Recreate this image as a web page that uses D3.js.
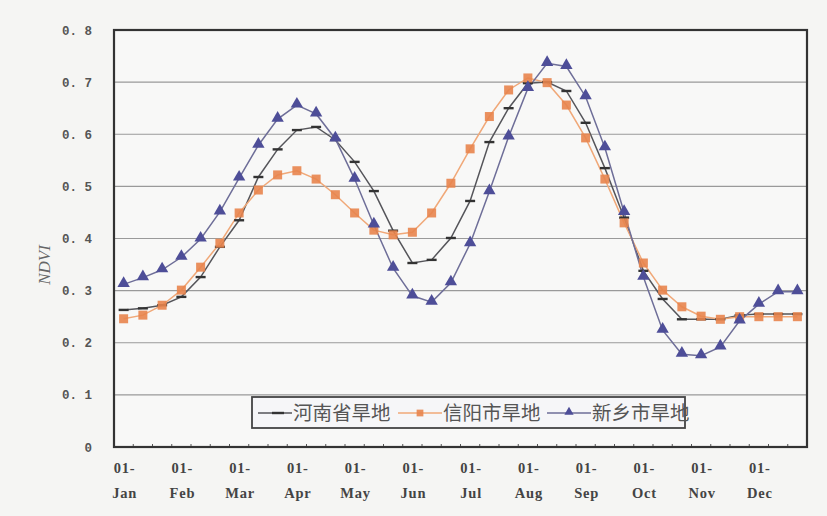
<!DOCTYPE html>
<html>
<head>
<meta charset="utf-8">
<script src="https://cdn.jsdelivr.net/npm/d3@7"></script>
<style>
  html, body { margin: 0; padding: 0; background: #f5f5f3; }
  svg { display: block; }
</style>
</head>
<body>
<svg id="chart" width="827" height="516"></svg>
<script>
// Dekadal NDVI (10-day periods) of dry farmland, Jan–Dec
const months = ["Jan","Feb","Mar","Apr","May","Jun","Jul","Aug","Sep","Oct","Nov","Dec"];
const dekads = months.flatMap(m => ["01-" + m, "11-" + m, "21-" + m]);

const seriesNames = ["河南省旱地", "信阳市旱地", "新乡市旱地"];

const henan = [
  0.263, 0.266, 0.272, 0.288, 0.326, 0.384, 0.435, 0.518, 0.571, 0.608, 0.614, 0.589,
  0.547, 0.491, 0.415, 0.353, 0.359, 0.401, 0.472, 0.585, 0.650, 0.698, 0.700, 0.683,
  0.622, 0.535, 0.440, 0.338, 0.284, 0.245, 0.245, 0.245, 0.253, 0.255, 0.255, 0.255
];
const xinyang = [
  0.246, 0.253, 0.272, 0.301, 0.345, 0.391, 0.449, 0.493, 0.522, 0.530, 0.514, 0.484,
  0.449, 0.416, 0.407, 0.412, 0.449, 0.506, 0.572, 0.634, 0.685, 0.708, 0.699, 0.656,
  0.593, 0.514, 0.430, 0.353, 0.301, 0.269, 0.251, 0.245, 0.250, 0.250, 0.250, 0.250
];
const xinxiang = [
  0.312, 0.325, 0.340, 0.364, 0.399, 0.451, 0.516, 0.579, 0.629, 0.656, 0.639, 0.591,
  0.514, 0.426, 0.343, 0.290, 0.278, 0.315, 0.390, 0.490, 0.595, 0.688, 0.736, 0.730,
  0.672, 0.574, 0.450, 0.326, 0.224, 0.178, 0.175, 0.192, 0.242, 0.274, 0.298, 0.298
];
const yTicks = [0, 0.1, 0.2, 0.3, 0.4, 0.5, 0.6, 0.7, 0.8];

const svg = d3.select("#chart");
const plot = { left: 114, right: 807, top: 30, bottom: 447 };

const x = d3.scaleBand()
  .domain(d3.range(dekads.length))
  .range([plot.left, plot.right])
  .padding(0);
const cx = i => x(i) + x.bandwidth() / 2;
const y = d3.scaleLinear().domain([0, 0.8]).range([plot.bottom, plot.top]);

// plot background
svg.append("rect")
  .attr("x", plot.left).attr("y", plot.top)
  .attr("width", plot.right - plot.left).attr("height", plot.bottom - plot.top)
  .attr("fill", "#f8f8f7");

// horizontal gridlines
svg.append("g")
  .selectAll("line")
  .data(yTicks.filter(t => t > 0 && t < 0.8))
  .join("line")
  .attr("x1", plot.left).attr("x2", plot.right)
  .attr("y1", d => y(d)).attr("y2", d => y(d))
  .attr("stroke", "#9a9a9a").attr("stroke-width", 1.2);

// y axis labels
const yAxis = d3.axisLeft(y).tickValues(yTicks).tickSize(0).tickPadding(22)
  .tickFormat(d => d === 0 ? "0" : d3.format(".1f")(d).replace(".", ". "));
const gy = svg.append("g").attr("transform", `translate(${plot.left},0)`).call(yAxis);
gy.select(".domain").remove();
gy.selectAll("text")
  .attr("font-family", "'Liberation Mono', monospace")
  .attr("font-weight", "bold")
  .attr("font-size", 12.5)
  .attr("fill", "#555");

// x axis: small ticks at dekad boundaries, labels every month
const gx = svg.append("g");
gx.selectAll("line")
  .data(d3.range(dekads.length + 1))
  .join("line")
  .attr("x1", i => plot.left + i * x.bandwidth())
  .attr("x2", i => plot.left + i * x.bandwidth())
  .attr("y1", plot.bottom - 3).attr("y2", plot.bottom + 1)
  .attr("stroke", "#555").attr("stroke-width", 1);

const monthIdx = d3.range(0, dekads.length, 3);
const lbl = gx.selectAll("text")
  .data(monthIdx)
  .join("text")
  .attr("text-anchor", "middle")
  .attr("font-family", "'Liberation Serif', serif")
  .attr("font-weight", "bold")
  .attr("font-size", 14.5)
  .attr("letter-spacing", 0.8)
  .attr("fill", "#444");
lbl.append("tspan").attr("x", i => cx(i) + 1).attr("y", 473)
  .text(i => dekads[i].slice(0, 3));
lbl.append("tspan").attr("x", i => cx(i) + 1).attr("y", 498)
  .text(i => dekads[i].slice(3));

// y axis title
svg.append("text")
  .attr("transform", "translate(50,265) rotate(-90)")
  .attr("text-anchor", "middle")
  .attr("font-family", "'Liberation Serif', serif")
  .attr("font-style", "italic")
  .attr("font-size", 17)
  .attr("fill", "#666")
  .text("NDVI");

// series lines and markers
const line = d3.line().x((d, i) => cx(i)).y(d => y(d));

const series = [
  { name: seriesNames[0], values: henan,    lineColor: "#55555a", markColor: "#333", marker: "dash" },
  { name: seriesNames[1], values: xinyang,  lineColor: "#f0a878", markColor: "#e8844c", marker: "square" },
  { name: seriesNames[2], values: xinxiang, lineColor: "#6e6e98", markColor: "#4e4e98", marker: "triangle" }
];

const triPath = d3.symbol().type(d3.symbolTriangle).size(66)();

function drawMarker(g, s, px, py, scale) {
  const k = scale || 1;
  if (s.marker === "dash") {
    g.append("line")
      .attr("x1", px - 5 * k).attr("x2", px + 5 * k)
      .attr("y1", py).attr("y2", py)
      .attr("stroke", s.markColor).attr("stroke-width", 2.4);
  } else if (s.marker === "square") {
    g.append("rect")
      .attr("x", px - 4.5 * k).attr("y", py - 4.5 * k)
      .attr("width", 9 * k).attr("height", 9 * k)
      .attr("fill", s.markColor).attr("opacity", 0.9);
  } else {
    g.append("path")
      .attr("d", triPath)
      .attr("transform", `translate(${px},${py - 1}) scale(${k})`)
      .attr("fill", s.markColor);
  }
}

series.forEach(s => {
  svg.append("path")
    .datum(s.values)
    .attr("d", line)
    .attr("fill", "none")
    .attr("stroke", s.lineColor)
    .attr("stroke-width", 1.5);
});
series.forEach(s => {
  const g = svg.append("g");
  s.values.forEach((v, i) => drawMarker(g, s, cx(i), y(v), 1));
});

// plot frame
svg.append("rect")
  .attr("x", plot.left).attr("y", plot.top)
  .attr("width", plot.right - plot.left).attr("height", plot.bottom - plot.top)
  .attr("fill", "none")
  .attr("stroke", "#333").attr("stroke-width", 2.2);

// legend
const legend = svg.append("g");
legend.append("rect")
  .attr("x", 252).attr("y", 397).attr("width", 433).attr("height", 31)
  .attr("fill", "#f6f6f8").attr("stroke", "#444").attr("stroke-width", 1.8);

const legendLayout = [
  { lx1: 258, lx2: 292, tx: 293 },
  { lx1: 398, lx2: 442, tx: 443 },
  { lx1: 547, lx2: 591, tx: 592 }
];
series.forEach((s, k) => {
  const L = legendLayout[k];
  const ly = 413;
  legend.append("line")
    .attr("x1", L.lx1).attr("x2", L.lx2).attr("y1", ly).attr("y2", ly)
    .attr("stroke", s.lineColor).attr("stroke-width", 1.5);
  if (s.marker !== "dash") drawMarker(legend, s, (L.lx1 + L.lx2) / 2, ly, 0.75);
  else drawMarker(legend, s, (L.lx1 + L.lx2) / 2 + 3, ly, 1.2);
  legend.append("text")
    .attr("x", L.tx).attr("y", ly + 7)
    .attr("font-family", "'Noto Sans CJK SC', sans-serif")
    .attr("font-size", 19.5)
    .attr("fill", "#555")
    .text(s.name);
});
</script>
</body>
</html>
